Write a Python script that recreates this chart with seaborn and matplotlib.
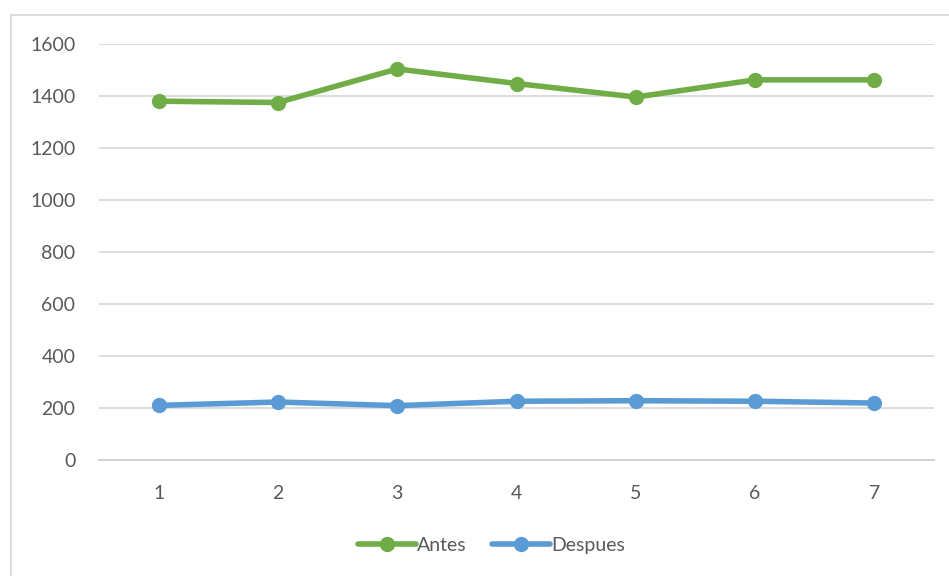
import matplotlib
matplotlib.use("Agg")
import matplotlib.pyplot as plt
import seaborn as sns
import pandas as pd
from matplotlib.patches import Rectangle

categories = [1, 2, 3, 4, 5, 6, 7]
antes = [1380, 1375, 1504, 1448, 1396, 1462, 1462]
despues = [210, 223, 209, 226, 228, 226, 219]
series_names = ["Antes", "Despues"]
y_ticks = [0, 200, 400, 600, 800, 1000, 1200, 1400, 1600]

df = pd.DataFrame({
    "x": categories * 2,
    "y": antes + despues,
    "serie": [series_names[0]] * len(antes) + [series_names[1]] * len(despues),
})

sns.set_theme(style="white")
plt.rcParams["font.family"] = ["Lato", "DejaVu Sans"]

fig = plt.figure(figsize=(9.49, 5.76), dpi=100)
fig.patches.append(Rectangle((11 / 949, -0.1), 1.2, 1 - 15 / 576 + 0.1,
                             transform=fig.transFigure, fill=False,
                             edgecolor="#d9d9d9", linewidth=1.3))
ax = fig.add_axes([99 / 949, 1 - 460 / 576, (934 - 99) / 949, (460 - 44) / 576])

palette = {"Antes": "#70AD47", "Despues": "#5B9BD5"}
sns.lineplot(data=df, x="x", y="y", hue="serie", palette=palette, ax=ax,
             marker="o", markersize=11, linewidth=4.0, markeredgewidth=0,
             legend=True)

ax.set_xlim(0.5, 7.5)
ax.set_ylim(0, 1600)
ax.set_yticks(y_ticks)
ax.set_xticks(categories)
ax.set_xticklabels([str(c) for c in categories])
ax.set_xlabel("")
ax.set_ylabel("")
ax.yaxis.grid(True, color="#d9d9d9", linewidth=1.3)
ax.set_axisbelow(True)
for s in ["left", "right", "top"]:
    ax.spines[s].set_visible(False)
ax.spines["bottom"].set_color("#d0d0d0")
ax.spines["bottom"].set_linewidth(1.3)
ax.tick_params(axis="both", length=0, labelsize=14, colors="#595959")
ax.tick_params(axis="x", pad=18)
ax.tick_params(axis="y", pad=17)

handles, labels = ax.get_legend_handles_labels()
ax.legend(handles, labels, loc="center", bbox_to_anchor=(0.47, -0.205),
          ncol=2, frameon=False, fontsize=14, labelcolor="#595959",
          handlelength=3.0, handletextpad=0.05, columnspacing=1.3)

fig.savefig("out.png", dpi=100, facecolor="white")
